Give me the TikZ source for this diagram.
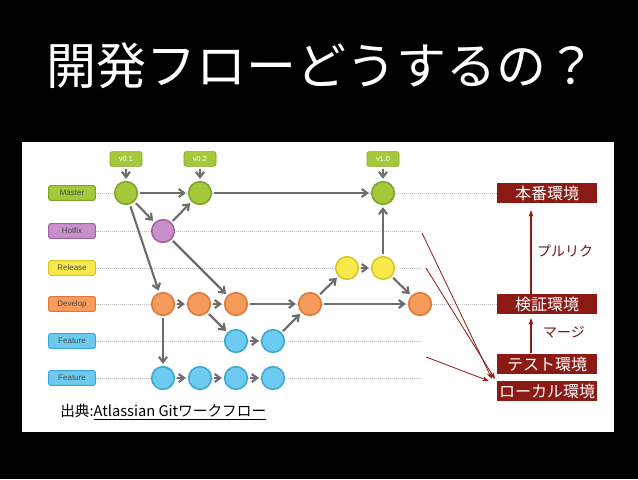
\documentclass[tikz,border=0pt]{standalone}
\usepackage{fontspec}
\setmainfont{Liberation Sans}
\newfontfamily\cjk{Noto Sans CJK JP}
\usetikzlibrary{arrows.meta}
\definecolor{mgreen}{HTML}{A5C93B}\definecolor{mgreenD}{HTML}{7FA52A}
\definecolor{hpurp}{HTML}{C88FCB}\definecolor{hpurpD}{HTML}{A0659F}
\definecolor{ryel}{HTML}{F7EA4A}\definecolor{ryelD}{HTML}{D9C62E}
\definecolor{dor}{HTML}{F79B5A}\definecolor{dorD}{HTML}{DC7A3C}
\definecolor{fbl}{HTML}{6CCBEE}\definecolor{fblD}{HTML}{3FA8D6}
\definecolor{envred}{HTML}{8B1A14}
\begin{document}
\begin{tikzpicture}[x=0.75pt,y=-0.75pt,
 c/.style={circle,minimum size=17pt,inner sep=0,line width=1.2pt},
 lab/.style={rectangle,rounded corners=1.5pt,minimum width=35pt,minimum height=11pt,inner sep=0,font=\fontsize{6}{7}\selectfont,text=black!70,line width=0.8pt},
 tag/.style={rectangle,rounded corners=1.5pt,fill=mgreen,draw=mgreenD,minimum width=24pt,minimum height=11pt,inner sep=0,font=\fontsize{5.5}{6}\selectfont,text=white},
 lane/.style={densely dotted,gray!50,line width=0.5pt},
 ga/.style={-{Straight Barb[length=4pt,width=6pt]},gray!85!black,line width=1.6pt,shorten >=1.5pt,shorten <=1.5pt},
 env/.style={fill=envred,text=white,font=\cjk\fontsize{12}{13}\selectfont,minimum width=75pt,minimum height=15pt,inner sep=0},
 ra/.style={-{Stealth[length=5pt,width=3.5pt]},envred,line width=0.9pt}]
\fill[black] (0,0) rectangle (638,479);
\useasboundingbox (0,0) rectangle (638,479);
\fill[white] (22,142) rectangle (614,432);
\node[text=white,font=\cjk\fontsize{37.5}{40}\selectfont,anchor=west] (title) at (42,66) {開発フローどうするの？};
% lanes
\foreach \n/\y/\t/\f/\d/\e in {lm/193/Master/mgreen/mgreenD/497,lh/231/Hotfix/hpurp/hpurpD/420,lr/268/Release/ryel/ryelD/420,ld/304/Develop/dor/dorD/497,lf/341/Feature/fbl/fblD/420,lg/378/Feature/fbl/fblD/420}{
 \node[lab,fill=\f,draw=\d] (\n) at (72,\y) {\t};
 \draw[lane] (\n.east) -- (\e,\y);
}
\foreach \n/\x/\y/\f/\d in {m1/126/193/mgreen/mgreenD,m2/200/193/mgreen/mgreenD,m3/383/193/mgreen/mgreenD,h1/163/231/hpurp/hpurpD,r1/347/268/ryel/ryelD,r2/383/268/ryel/ryelD,d1/163/304/dor/dorD,d2/199/304/dor/dorD,d3/236/304/dor/dorD,d4/310/304/dor/dorD,d5/420/304/dor/dorD,f1/236/341/fbl/fblD,f2/273/341/fbl/fblD,g1/163/378/fbl/fblD,g2/200/378/fbl/fblD,g3/236/378/fbl/fblD,g4/273/378/fbl/fblD}{
 \node[c,fill=\f,draw=\d] (\n) at (\x,\y) {};
}
\node[tag] (t1) at (126,159) {v0.1};
\node[tag] (t2) at (200,159) {v0.2};
\node[tag] (t3) at (383,159) {v1.0};
\foreach \a/\b in {t1/m1,t2/m2,t3/m3,m1/m2,m2/m3,m1/h1,h1/m2,m1/d1,h1/d3,d1/d2,d2/d3,d3/d4,d2/f1,f1/f2,f2/d4,d4/r1,r1/r2,r2/m3,r2/d5,d4/d5,d1/g1,g1/g2,g2/g3,g3/g4}{\draw[ga] (\a) -- (\b);}
% environments
\node[env] (prod) at (547,193) {本番環境};
\node[env] (stg) at (547,304) {検証環境};
\node[env] (test) at (547,364) {テスト環境};
\node[env] (loc) at (547,391) {ローカル環境};
\draw[ra] (531,294) -- (531,210);
\draw[ra] (531,353) -- (531,318);
\node[font=\cjk\fontsize{10.5}{12}\selectfont,text=envred!80!black] (pr) at (565,251) {プルリク};
\node[font=\cjk\fontsize{10.5}{12}\selectfont,text=envred!80!black] (mg) at (564,332) {マージ};
\coordinate (s1) at (422,233);\coordinate (s2) at (426,268);\coordinate (s3) at (426,357);
\draw[ra,line width=0.6pt] (s1) -- (492,379);
\draw[ra,line width=0.6pt] (s2) -- (495,379);
\draw[ra,line width=0.6pt] (s3) -- (489,381);
\node[anchor=west,font=\cjk\fontsize{11}{12}\selectfont,inner sep=0] (src) at (60,412) {出典:\underline{Atlassian Gitワークフロー}};
\end{tikzpicture}
\end{document}
